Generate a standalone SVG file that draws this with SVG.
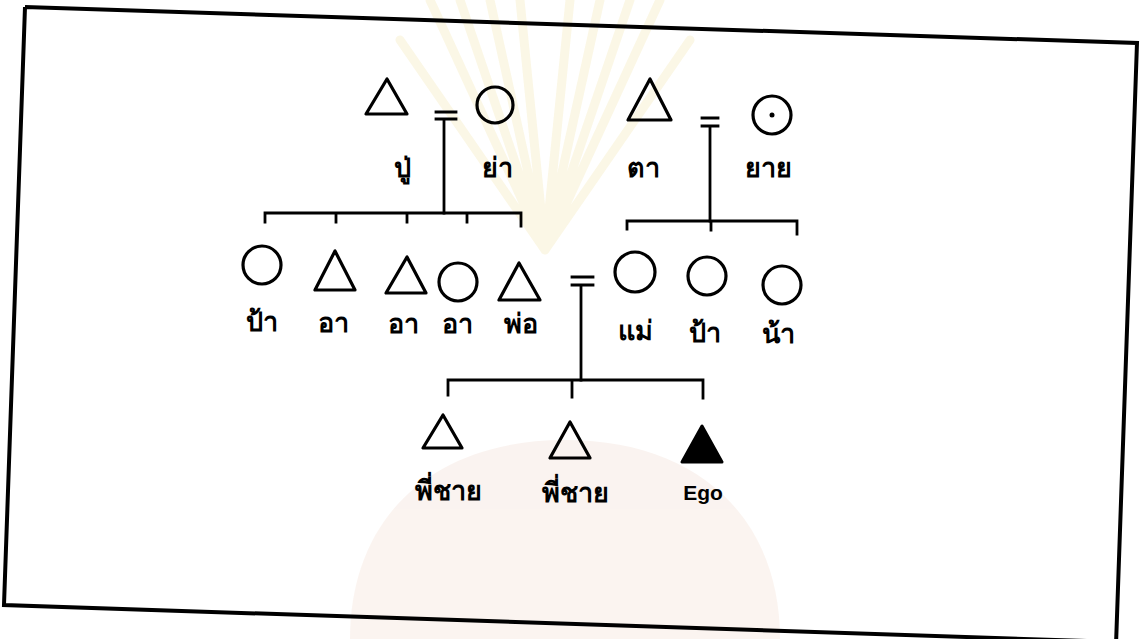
<svg xmlns="http://www.w3.org/2000/svg" width="1143" height="639" viewBox="0 0 1143 639">
<style>
.sym{fill:none;stroke:#000;stroke-width:3.2;stroke-linejoin:round}
.fill{fill:#000;stroke:#000;stroke-width:3;stroke-linejoin:round}
.ln{fill:none;stroke:#000;stroke-width:2.8;stroke-linecap:square}
.lbl{font-family:"Noto Sans","DejaVu Sans",sans-serif;font-size:27px;font-weight:bold;text-anchor:middle;fill:#000}
.ego{font-family:"Liberation Sans",Arial,sans-serif;font-size:21px;font-weight:bold;text-anchor:middle;fill:#000}
.ray{stroke:#faf3dc;stroke-width:9;stroke-linecap:round;fill:none}
</style>
<rect width="1143" height="639" fill="#fff"/>
<g id="watermark" opacity="0.7">
<path d="M350,639 C350,520 430,440 565,440 C700,440 780,520 780,639 Z" fill="#f9efea"/>
<path class="ray" d="M545,250 L430,0 M545,250 L460,0 M545,250 L490,0 M545,250 L520,0 M545,250 L570,0 M545,250 L600,0 M545,250 L630,0 M545,250 L660,0 M545,250 L400,40 M545,250 L690,40"/>
</g>
<g id="frame">
<path d="M25,7 L1137,43 L1116,645 M1117,642 L4,605 L25,7" fill="none" stroke="#000" stroke-width="4"/>
</g>
<g id="connectors">
<path class="ln" d="M436,112 H456 M436,119 H456 M444,119 V213"/>
<path class="ln" d="M265,213 H521 M265,213 V222 M336,213 V222 M407,213 V222 M467,213 V222 M521,213 V226"/>
<path class="ln" d="M702,118 H718 M702,126 H718 M710,126 V221"/>
<path class="ln" d="M627,221 H797 M627,221 V229 M711,221 V230 M797,221 V234"/>
<path class="ln" d="M572,277 H593 M572,285 H593 M581,285 V380"/>
<path class="ln" d="M448,380 H703 M448,380 V395 M572,380 V397 M703,380 V398"/>
</g>
<g id="pu"><polygon class="sym" points="387,79 366,114 407,114"/><text class="lbl" x="402" y="177">ปู่</text></g>
<g id="ya"><circle class="sym" cx="495" cy="105" r="18"/><text class="lbl" x="497" y="177">ย่า</text></g>
<g id="ta"><polygon class="sym" points="650,79 628,120 671,120"/><text class="lbl" x="643" y="177">ตา</text></g>
<g id="yai"><circle class="sym" cx="772" cy="115" r="19"/><circle cx="772" cy="115" r="2.5" fill="#000"/><text class="lbl" x="768" y="177">ยาย</text></g>
<g id="pa1"><circle class="sym" cx="262" cy="265" r="19"/><text class="lbl" x="262" y="331">ป้า</text></g>
<g id="a1"><polygon class="sym" points="335,251 315,290 355,290"/><text class="lbl" x="333" y="332">อา</text></g>
<g id="a2"><polygon class="sym" points="407,257 386,293 426,293"/><text class="lbl" x="403" y="333">อา</text></g>
<g id="a3"><circle class="sym" cx="458" cy="282" r="19"/><text class="lbl" x="457" y="333">อา</text></g>
<g id="po"><polygon class="sym" points="519,263 499,300 540,300"/><text class="lbl" x="521" y="333">พ่อ</text></g>
<g id="mae"><circle class="sym" cx="635" cy="272" r="20"/><text class="lbl" x="635" y="340">แม่</text></g>
<g id="pa2"><circle class="sym" cx="707" cy="276" r="19"/><text class="lbl" x="705" y="342">ป้า</text></g>
<g id="na"><circle class="sym" cx="782" cy="285" r="19"/><text class="lbl" x="778" y="343">น้า</text></g>
<g id="pc1"><polygon class="sym" points="443,415 423,448 462,448"/><text class="lbl" x="448" y="500">พี่ชาย</text></g>
<g id="pc2"><polygon class="sym" points="570,422 550,458 590,458"/><text class="lbl" x="575" y="502">พี่ชาย</text></g>
<g id="ego"><polygon class="fill" points="702,426 682,462 722,462"/><text class="ego" x="703" y="500">Ego</text></g>
</svg>
